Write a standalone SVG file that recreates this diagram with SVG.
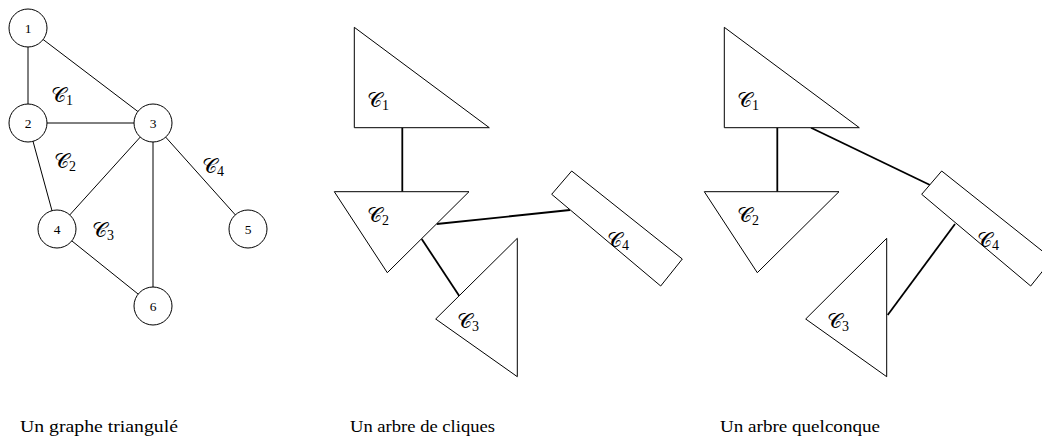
<svg xmlns="http://www.w3.org/2000/svg" width="1042" height="441" viewBox="0 0 1042 441">
<style>
.n{fill:#fff;stroke:#000;stroke-width:1}
.e{stroke:#000;stroke-width:1;fill:none}
.t{stroke:#000;stroke-width:1.8;fill:none}
.s{fill:#fff;stroke:#000;stroke-width:1}
.nl{font-family:"Liberation Serif",serif;font-size:13.5px;text-anchor:middle}
.c{font-family:"DejaVu Serif","Liberation Serif",serif;font-size:21px}
.sub{font-family:"Liberation Serif",serif;font-size:14px}
.cap{font-family:"Liberation Serif",serif;font-size:17px}
</style>
<g id="connectors">
<line class="e" x1="28" y1="28" x2="28" y2="123"/>
<line class="e" x1="28" y1="28" x2="153" y2="123"/>
<line class="e" x1="28" y1="123" x2="153" y2="123"/>
<line class="e" x1="28" y1="123" x2="57" y2="229"/>
<line class="e" x1="153" y1="123" x2="57" y2="229"/>
<line class="e" x1="153" y1="123" x2="248" y2="229"/>
<line class="e" x1="153" y1="123" x2="153" y2="306"/>
<line class="e" x1="57" y1="229" x2="153" y2="306"/>
<line class="t" x1="402.3" y1="127.7" x2="402.3" y2="191.7"/>
<line class="t" x1="436.7" y1="224" x2="570" y2="210"/>
<line class="t" x1="421.7" y1="239" x2="459.3" y2="296"/>
<line class="t" x1="777.3" y1="127.7" x2="777.3" y2="191.7"/>
<line class="t" x1="811" y1="127.7" x2="930" y2="185"/>
<line class="t" x1="887.7" y1="315" x2="955" y2="224"/>
</g>
<g id="node1"><circle class="n" cx="28" cy="28" r="19"/><text class="nl" x="28" y="32.5">1</text></g>
<g id="node2"><circle class="n" cx="28" cy="123" r="19"/><text class="nl" x="28" y="127.5">2</text></g>
<g id="node3"><circle class="n" cx="153" cy="123" r="19"/><text class="nl" x="153" y="127.5">3</text></g>
<g id="node4"><circle class="n" cx="57" cy="229" r="19"/><text class="nl" x="57" y="233.5">4</text></g>
<g id="node5"><circle class="n" cx="248" cy="229" r="19"/><text class="nl" x="248" y="233.5">5</text></g>
<g id="node6"><circle class="n" cx="153" cy="306" r="19"/><text class="nl" x="153" y="310.5">6</text></g>
<g id="labels-graph">
<text class="c" x="51" y="102">𝒞<tspan class="sub" dy="3">1</tspan></text>
<text class="c" x="54" y="168">𝒞<tspan class="sub" dy="3">2</tspan></text>
<text class="c" x="92" y="237">𝒞<tspan class="sub" dy="3">3</tspan></text>
<text class="c" x="202" y="173">𝒞<tspan class="sub" dy="3">4</tspan></text>
</g>
<g id="t1-C1"><polygon class="s" points="354.3,27.3 354.3,127.7 489.3,127.7"/><text class="c" x="367" y="107">𝒞<tspan class="sub" dy="3">1</tspan></text></g>
<g id="t1-C2"><polygon class="s" points="334.3,191.7 469,191.7 387.3,272.7"/><text class="c" x="367" y="221.7">𝒞<tspan class="sub" dy="3">2</tspan></text></g>
<g id="t1-C3"><polygon class="s" points="517.3,238.3 435.7,319 517.3,376.7"/><text class="c" x="457" y="328">𝒞<tspan class="sub" dy="3">3</tspan></text></g>
<g id="t1-C4"><polygon class="s" points="551.7,194.3 571.7,171 682.3,259 660.7,286"/><text class="c" x="607" y="246.7">𝒞<tspan class="sub" dy="3">4</tspan></text></g>
<g id="t2-C1"><polygon class="s" points="724.3,27.3 724.3,127.7 859.3,127.7"/><text class="c" x="737" y="107">𝒞<tspan class="sub" dy="3">1</tspan></text></g>
<g id="t2-C2"><polygon class="s" points="704.3,191.7 839,191.7 757.3,272.7"/><text class="c" x="737" y="221.7">𝒞<tspan class="sub" dy="3">2</tspan></text></g>
<g id="t2-C3"><polygon class="s" points="886.7,238.3 805.7,319 886.7,376.7"/><text class="c" x="827" y="328">𝒞<tspan class="sub" dy="3">3</tspan></text></g>
<g id="t2-C4"><polygon class="s" points="921.7,194.3 941.7,171 1052.3,259 1030.7,286"/><text class="c" x="977" y="246.7">𝒞<tspan class="sub" dy="3">4</tspan></text></g>
<g id="captions">
<text class="cap" x="20" y="432" textLength="158" lengthAdjust="spacingAndGlyphs">Un graphe triangulé</text>
<text class="cap" x="350" y="432" textLength="145" lengthAdjust="spacingAndGlyphs">Un arbre de cliques</text>
<text class="cap" x="720" y="432" textLength="160" lengthAdjust="spacingAndGlyphs">Un arbre quelconque</text>
</g>
</svg>
